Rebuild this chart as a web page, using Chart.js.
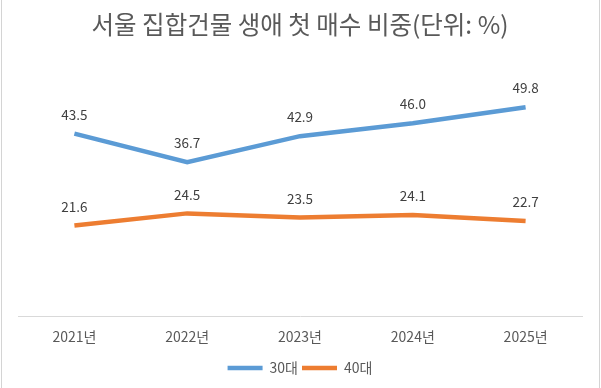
<!DOCTYPE html>
<html>
<head>
<meta charset="utf-8">
<script src="https://cdn.jsdelivr.net/npm/chart.js@4"></script>
<style>
  html, body { margin: 0; padding: 0; background: #fff; }
  #wrap { width: 601px; height: 388px; position: relative; }
</style>
</head>
<body>
<div id="wrap"><canvas id="c" width="601" height="388"></canvas></div>
<script>
const years = ['2021년', '2022년', '2023년', '2024년', '2025년']
const age30 = [43.5, 36.7, 42.9, 46.0, 49.8]
const age40 = [21.6, 24.5, 23.5, 24.1, 22.7]
const seriesNames = ['30대', '40대']

const FONT = "'Noto Sans CJK KR', 'Noto Sans', sans-serif"

// value labels above each point, like excel data labels
const pointLabels = {
  id: 'pointLabels',
  afterDatasetsDraw(chart) {
    const ctx = chart.ctx
    ctx.save()
    ctx.font = '13.5px ' + FONT
    ctx.fillStyle = '#404040'
    ctx.textAlign = 'center'
    ctx.textBaseline = 'middle'
    chart.data.datasets.forEach((ds, i) => {
      chart.getDatasetMeta(i).data.forEach((pt, j) => {
        ctx.fillText(ds.data[j].toFixed(1), pt.x, pt.y - 19)
      })
    })
    ctx.restore()
  }
}

// thin grey frame on the sides
const frame = {
  id: 'frame',
  beforeDraw(chart) {
    const ctx = chart.ctx
    ctx.save()
    ctx.strokeStyle = '#d4d4d4'
    ctx.lineWidth = 1
    ctx.beginPath()
    ctx.moveTo(1.5, 0); ctx.lineTo(1.5, 388)
    ctx.moveTo(599.5, 0); ctx.lineTo(599.5, 388)
    ctx.stroke()
    ctx.restore()
  }
}

new Chart(document.getElementById('c'), {
  type: 'line',
  data: {
    labels: years,
    datasets: [
      { label: seriesNames[0], data: age30, borderColor: '#5B9BD5', backgroundColor: '#5B9BD5', borderWidth: 4.5, pointRadius: 0, tension: 0, pointStyle: 'line' },
      { label: seriesNames[1], data: age40, borderColor: '#ED7D31', backgroundColor: '#ED7D31', borderWidth: 4.5, pointRadius: 0, tension: 0, pointStyle: 'line' }
    ]
  },
  options: {
    responsive: false,
    animation: false,
    layout: { padding: { left: 18, right: 19, top: 0, bottom: 3 } },
    plugins: {
      title: {
        display: true,
        text: '서울 집합건물 생애 첫 매수 비중(단위: %)',
        color: '#595959',
        font: { family: FONT, size: 24.5, weight: 'normal' },
        padding: { top: 10, bottom: 25 }
      },
      legend: {
        position: 'bottom',
        labels: {
          usePointStyle: true,
          pointStyleWidth: 35,
          color: '#595959',
          font: { family: FONT, size: 14 },
          padding: 4
        }
      },
      tooltip: { enabled: false }
    },
    scales: {
      x: {
        offset: true,
        grid: { display: false, drawTicks: false },
        border: { display: true, color: '#d9d9d9', width: 1 },
        ticks: { color: '#595959', font: { family: FONT, size: 14 }, padding: 12 }
      },
      y: {
        display: false,
        min: 0,
        max: 60
      }
    }
  },
  plugins: [pointLabels, frame]
})
</script>
</body>
</html>
